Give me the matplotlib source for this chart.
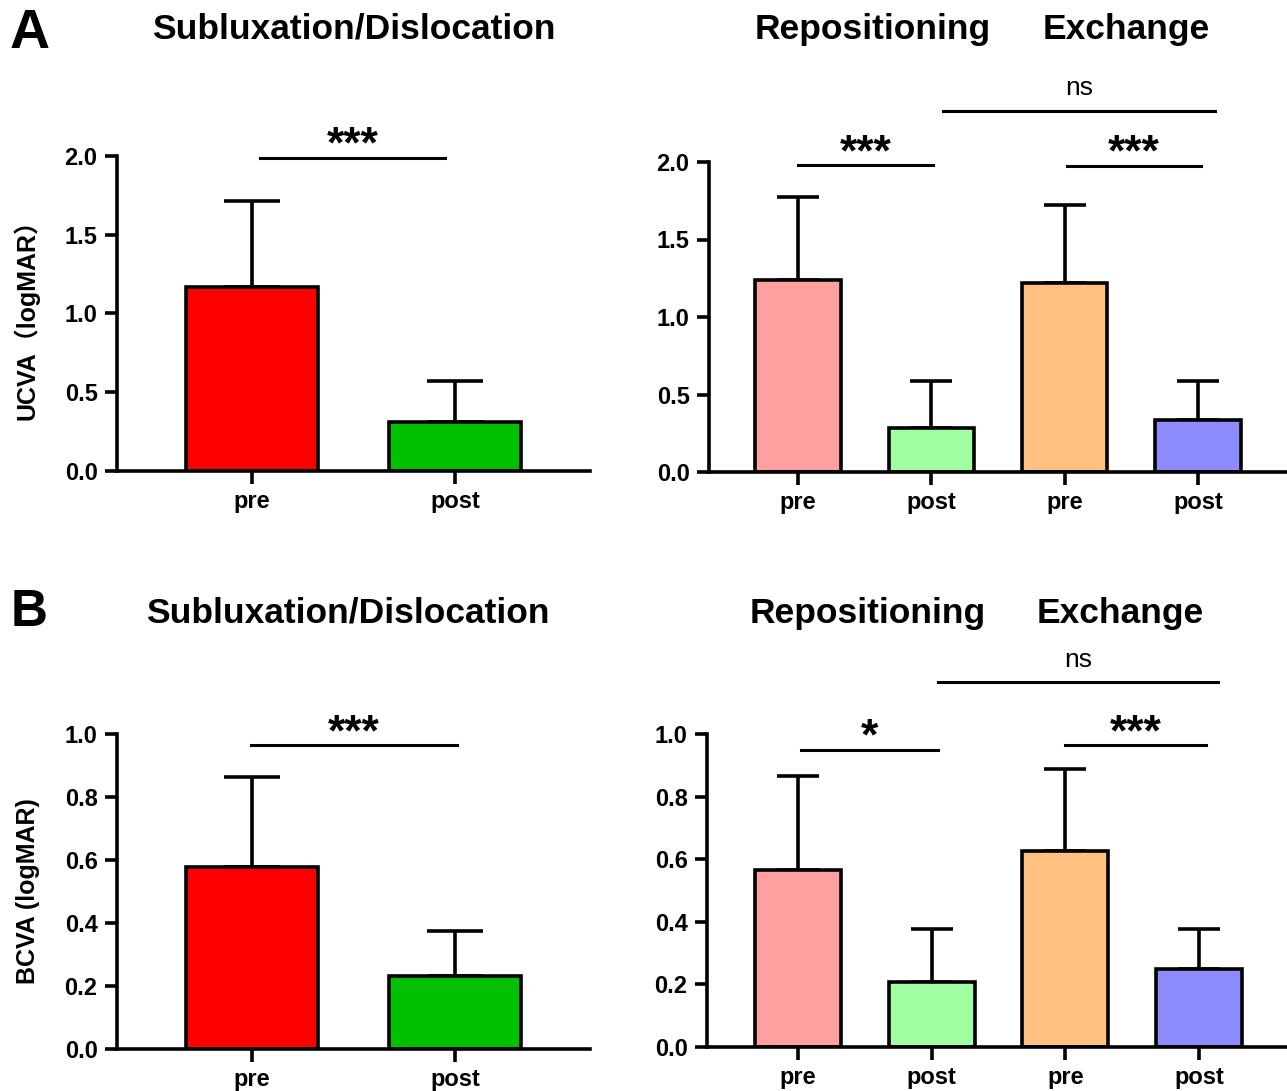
import numpy as np
import matplotlib.pyplot as plt

plt.rcParams['font.family'] = ['Liberation Sans', 'Noto Sans CJK SC', 'DejaVu Sans']
plt.rcParams['font.weight'] = 'bold'

W, H = 1287, 1091

# data
groups_left = ['pre', 'post']
groups_right = ['pre', 'post', 'pre', 'post']

ucva_left = [1.17, 0.31]
ucva_left_sd = [0.545, 0.26]
ucva_right = [1.24, 0.285, 1.22, 0.335]
ucva_right_sd = [0.535, 0.30, 0.50, 0.25]

bcva_left = [0.578, 0.232]
bcva_left_sd = [0.285, 0.143]
bcva_right = [0.566, 0.209, 0.627, 0.25]
bcva_right_sd = [0.30, 0.168, 0.262, 0.127]

colors_left = ['#FF0000', '#00C000']
colors_right = ['#FFA0A0', '#A0FFA0', '#FFC080', '#8C8CFF']

fig = plt.figure(figsize=(W / 100, H / 100), dpi=100)


def make_ax(x0, x1, y0, y1):
    # pixel box -> figure fraction
    return fig.add_axes([x0 / W, (H - y1) / H, (x1 - x0) / W, (y1 - y0) / H])


def draw_panel(ax, vals, sds, cols, labels, width, cap, xlim, ylim, yticks, fmt):
    x = np.arange(len(vals))
    ax.bar(x, vals, width=width, color=cols, edgecolor='black', linewidth=2.6, zorder=2)
    ax.errorbar(x, vals, yerr=[np.zeros(len(vals)), sds], fmt='none', ecolor='black',
                elinewidth=2.6, capsize=cap, capthick=2.6, zorder=1)
    ax.set_xlim(*xlim)
    ax.set_ylim(*ylim)
    ax.set_xticks(x)
    ax.set_xticklabels(labels, fontsize=17, fontweight='bold')
    ax.set_yticks(yticks)
    ax.set_yticklabels([fmt % t for t in yticks], fontsize=17, fontweight='bold')
    for s in ['top', 'right']:
        ax.spines[s].set_visible(False)
    for s in ['left', 'bottom']:
        ax.spines[s].set_linewidth(2.6)
    ax.tick_params(width=2.6, length=9, direction='out', pad=5)
    ax.spines['left'].set_bounds(ylim[0], ylim[1])


def sig(ax, xa, xb, y, text, ty, size=32):
    ax.plot([xa, xb], [y, y], color='black', lw=2.2, clip_on=False)
    ax.text((xa + xb) / 2, ty, text, ha='center', va='baseline', fontsize=size,
            fontweight='bold' if '*' in text else 'normal', clip_on=False)


# A left
ax1 = make_ax(117, 590, 156, 471)
draw_panel(ax1, ucva_left, ucva_left_sd, colors_left, groups_left, 0.655, 20,
           (-0.665, 1.665), (0, 2.0), [0, 0.5, 1.0, 1.5, 2.0], '%.1f')
ax1.set_ylabel('UCVA（logMAR）', fontsize=18, fontweight='bold', labelpad=18)
sig(ax1, 0.04, 0.95, 1.99, '***', 1.99)

# A right
ax2 = make_ax(709, 1290, 162, 472)
draw_panel(ax2, ucva_right, ucva_right_sd, colors_right, groups_right, 0.64, 15,
           (-0.668, 3.69), (0, 2.0), [0, 0.5, 1.0, 1.5, 2.0], '%.1f')
sig(ax2, 0.0, 1.01, 1.98, '***', 1.98)
sig(ax2, 2.02, 3.02, 1.975, '***', 1.975)
sig(ax2, 1.09, 3.13, 2.33, 'ns', 2.43, size=19)

# B left
ax3 = make_ax(117, 590, 734, 1049)
draw_panel(ax3, bcva_left, bcva_left_sd, colors_left, groups_left, 0.655, 20,
           (-0.665, 1.665), (0, 1.0), [0, 0.2, 0.4, 0.6, 0.8, 1.0], '%.1f')
ax3.set_ylabel('BCVA (logMAR)', fontsize=18, fontweight='bold', labelpad=18)
sig(ax3, -0.005, 1.01, 0.965, '***', 0.965)

# B right
ax4 = make_ax(707, 1290, 734, 1047)
draw_panel(ax4, bcva_right, bcva_right_sd, colors_right, groups_right, 0.645, 15,
           (-0.68, 3.68), (0, 1.0), [0, 0.2, 0.4, 0.6, 0.8, 1.0], '%.1f')
sig(ax4, 0.02, 1.05, 0.95, '*', 0.95)
sig(ax4, 2.0, 3.05, 0.965, '***', 0.965)
sig(ax4, 1.05, 3.14, 1.165, 'ns', 1.215, size=19)

# titles and panel letters
title_kw = dict(ha='center', va='center', fontsize=25.5, fontweight='bold')
fig.text(354 / W, 1 - 29 / H, 'Subluxation/Dislocation', **title_kw)
fig.text(873 / W, 1 - 29 / H, 'Repositioning', **title_kw)
fig.text(1126 / W, 1 - 29 / H, 'Exchange', **title_kw)
fig.text(348 / W, 1 - 613 / H, 'Subluxation/Dislocation', **title_kw)
fig.text(868 / W, 1 - 613 / H, 'Repositioning', **title_kw)
fig.text(1120 / W, 1 - 613 / H, 'Exchange', **title_kw)
fig.text(30 / W, 1 - 34 / H, 'A', ha='center', va='center', fontsize=40, fontweight='bold')
fig.text(29 / W, 1 - 612 / H, 'B', ha='center', va='center', fontsize=37, fontweight='bold')

fig.savefig('out.png', dpi=100)
